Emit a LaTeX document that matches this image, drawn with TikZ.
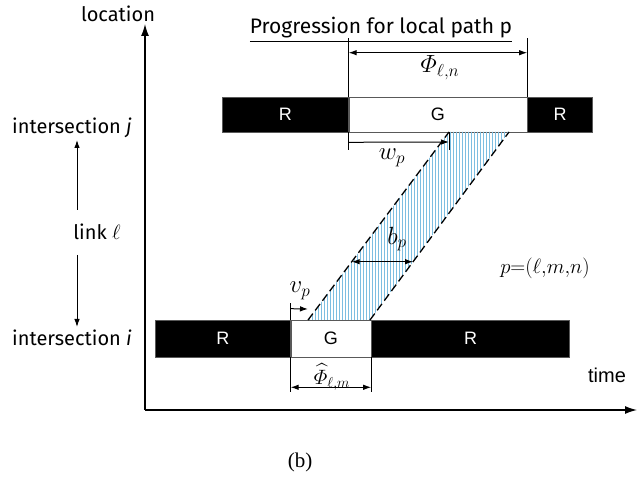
\documentclass[tikz,border=0pt]{standalone}
\usepackage{amsmath}
\usepackage{fontspec}
\setsansfont{Fira Sans}
\newfontfamily\arialfont{Liberation Sans}
\newfontfamily\timesfont{Liberation Serif}
\usetikzlibrary{arrows.meta,calc,patterns}
\definecolor{hatchblue}{RGB}{125,190,225}
\tikzset{
  redbar/.style={draw=gray!70!black, line width=0.6pt, fill=black, text=white, inner sep=0pt, anchor=west, font=\arialfont\fontsize{18}{20}\selectfont},
  greenbar/.style={draw=gray!70!black, line width=0.6pt, fill=white, inner sep=0pt, anchor=west, font=\arialfont\fontsize{18}{20}\selectfont},
  axislabel/.style={font=\sffamily\fontsize{20}{24}\selectfont, inner sep=1pt},
  mathlabel/.style={font=\fontsize{23}{26}\selectfont, inner sep=0pt},
  dimline/.style={line width=1pt, {Latex[length=8pt,width=5.5pt]}-{Latex[length=8pt,width=5.5pt]}},
  oneway/.style={line width=1pt, -{Latex[length=8pt,width=5.5pt]}},
  tickline/.style={line width=0.7pt},
  bigarrow/.style={line width=1.3pt, -{Latex[length=12pt,width=8pt]}},
}

\begin{document}
\begin{tikzpicture}[x=1pt, y=1pt]
		\useasboundingbox (0,0) rectangle (637,479);
		% axes
		\coordinate (O) at (145,69);
		\coordinate (ytop) at (145,455);
		\coordinate (xend) at (637,69);
		\draw[bigarrow] (O) -- (ytop);
		\draw[bigarrow] (O) -- (xend);
		\node[axislabel] (loc) at (118,465) {location};
		\node[font=\arialfont\fontsize{20}{24}\selectfont] (time) at (607,104) {time};
		\node[axislabel, font=\sffamily\fontsize{21}{24}\selectfont] (title) at (381,449) {\underline{Progression for local path p}};
		% signal at intersection j
		\node[redbar, minimum width=126, minimum height=35] (rj1) at (222,364.5) {R};
		\node[greenbar, minimum width=178, minimum height=35] (gj) at (rj1.east) {G};
		\node[redbar, minimum width=65, minimum height=35] (rj2) at (gj.east) {R};
		% signal at intersection i
		\node[redbar, minimum width=135, minimum height=37] (ri1) at (155,140.5) {R};
		\node[greenbar, minimum width=80, minimum height=37] (gi) at (ri1.east) {G};
		\node[redbar, minimum width=198, minimum height=37] (ri2) at (gi.east) {R};
		% progression band
		\coordinate (pTL) at (449,347);
		\coordinate (pTR) at (509,347);
		\coordinate (pBR) at (370,159);
		\coordinate (pBL) at (308,159);
		\fill[pattern=vertical lines, pattern color=hatchblue] (pTL) -- (pTR) -- (pBR) -- (pBL) -- cycle;
		\draw[dashed, line width=1.3pt, dash pattern=on 8pt off 4pt] (pBL) -- (pTL);
		\draw[dashed, line width=1.3pt, dash pattern=on 8pt off 4pt] (pBR) -- (pTR);
		% green time at j
		\draw[tickline] (gj.north west) -- ++(0,59) coordinate (phinL);
		\draw[tickline] (gj.north east) -- ++(0,59) coordinate (phinR);
		\draw[dimline] ([yshift=-15]phinL) -- ([yshift=-15]phinR);
		\node[mathlabel] (phin) at (440,411) {$\varPhi_{\ell,n}$};
		% offset w
		\draw[tickline] (gj.south west) -- ++(0,-18) coordinate (wL);
		\draw[tickline] (pTL) -- ++(0,-18) coordinate (wR);
		\draw[oneway] ([yshift=8]wL) -- ([yshift=8]wR);
		\node[mathlabel] (wp) at (392,321) {$w_p$};
		% bandwidth b
		\coordinate (bL) at ($(pBL)!0.31!(pTL)$);
		\coordinate (bR) at ($(pBR)!0.31!(pTR)$);
		\draw[dimline] (bL) -- (bR);
		\node[mathlabel] (bp) at (397,240) {$b_p$};
		% offset v
		\draw[tickline] (gi.north west) -- ++(0,17) coordinate (vL);
		\draw[oneway] ([yshift=-6]vL) -- ([yshift=11]pBL);
		\node[mathlabel] (vp) at (300,188) {$v_p$};
		% green time at i
		\draw[tickline] (gi.south west) -- ++(0,-35) coordinate (phimL);
		\draw[tickline] (gi.south east) -- ++(0,-35) coordinate (phimR);
		\draw[dimline] ([yshift=5]phimL) -- ([yshift=5]phimR);
		\node[mathlabel, font=\fontsize{20}{24}\selectfont] (phim) at (332,102) {$\widehat{\varPhi}_{\ell,m}$};
		\node[mathlabel, font=\fontsize{20}{22}\selectfont] (path) at (545,211) {$p{=}(\ell{,}m{,}n)$};
		% link between intersections
		\node[axislabel] (intj) at (72,351) {intersection \textit{j}};
		\node[axislabel] (inti) at (72,141) {intersection \textit{i}};
		\node[axislabel] (link) at (97,247) {link $\ell$};
		\coordinate (upS) at (77,269);
		\coordinate (upE) at (77,339);
		\coordinate (dnS) at (77,224);
		\coordinate (dnE) at (77,152);
		\draw[oneway] (upS) -- (upE);
		\draw[oneway] (dnS) -- (dnE);
		\node[font=\timesfont\fontsize{21}{24}\selectfont] (cap) at (300,17) {(b)};
	\end{tikzpicture}
\end{document}
